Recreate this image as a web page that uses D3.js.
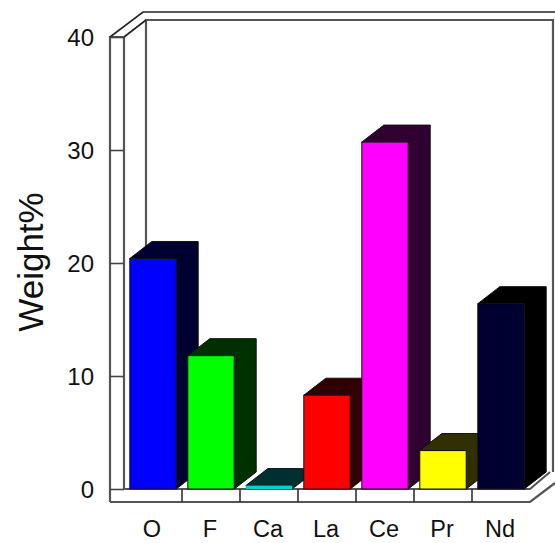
<!DOCTYPE html>
<html>
<head>
<meta charset="utf-8">
<script src="https://cdn.jsdelivr.net/npm/d3@7"></script>
<style>
  html, body { margin: 0; padding: 0; background: #fff; }
  svg { display: block; }
  text { font-family: "Liberation Sans", Arial, sans-serif; fill: #111; }
</style>
</head>
<body>
<svg id="chart" width="555" height="543"></svg>
<script>
// Element composition of the sample
const elements = ["O", "F", "Ca", "La", "Ce", "Pr", "Nd"];
const weights = [20.4, 11.8, 0.3, 8.3, 30.7, 3.4, 16.4];
const frontColors = ["#0000ff", "#00ff00", "#00d0d0", "#ff0000", "#ff00ff", "#ffff00", "#000030"];
const shadeColors = ["#000030", "#002f00", "#002f2f", "#300000", "#300030", "#303000", "#000000"];
const yTicks = [0, 10, 20, 30, 40];

const svg = d3.select("#chart");
const frameColor = "#555";

const y = d3.scaleLinear().domain([0, 40]).range([489, 37]);
const x = d3.scaleBand().domain(elements).range([124, 530]).paddingInner(0.2).paddingOuter(0.1);

// Oblique projection offset for the 3D depth
const depthX = 22, depthY = -17;
const wallLeft = x.range()[0], wallRight = x.range()[1];
const yBase = y(0), yTop = y(40);
const stripX = 14, stripY = 13;

const pathOf = d3.line();
function frame(points, width = 2.2, color = frameColor) {
  svg.append("path").attr("d", pathOf(points))
    .attr("fill", "none").attr("stroke", color)
    .attr("stroke-width", width).attr("stroke-linejoin", "miter");
}

// Box walls: outer strip, inner edges and back plane
frame([[wallLeft - stripX, yBase + stripY], [wallLeft - stripX, yTop], [wallLeft, yTop], [wallLeft, yBase]]);
frame([[wallLeft + depthX, yBase + depthY], [wallLeft + depthX, yTop + depthY], [wallRight + depthX + 1, yTop + depthY], [wallRight + depthX + 1, yBase + depthY]]);
frame([[wallLeft - stripX, yTop], [wallLeft + depthX - 3, yTop - 25], [555, yTop - 25]], 1.6, "#222");
frame([[wallLeft, yTop], [wallLeft + depthX, yTop + depthY]], 1.6, "#222");

// Floor ledge
frame([[wallLeft - stripX, yBase + stripY], [wallRight, yBase + stripY], [555, yBase + stripY - 19]]);
frame([[wallLeft, yBase], [wallRight, yBase], [wallRight + depthX - 2, yBase + depthY]]);

// Separators on the floor ledge between categories
svg.append("g").selectAll("line").data(elements.slice(1)).join("line")
  .attr("x1", d => x(d) - x.step() * x.paddingInner() / 2)
  .attr("x2", d => x(d) - x.step() * x.paddingInner() / 2)
  .attr("y1", yBase).attr("y2", yBase + stripY)
  .attr("stroke", "#333").attr("stroke-width", 1.6);

// Bars: side, top, then front face
const rows = elements.map((name, i) => ({ name, value: weights[i], front: frontColors[i], shade: shadeColors[i] }));
const bars = svg.append("g").selectAll("g").data(rows).join("g");

bars.append("path")
  .attr("fill", d => d.shade)
  .attr("stroke", "#111").attr("stroke-width", 1)
  .attr("d", d => {
    const l = x(d.name), r = l + x.bandwidth(), t = y(d.value);
    return pathOf([[l, t], [l + depthX, t + depthY], [r + depthX, t + depthY], [r + depthX, yBase + depthY], [r, yBase], [r, t]]) + "Z";
  });

bars.append("rect")
  .attr("x", d => x(d.name))
  .attr("y", d => y(d.value))
  .attr("width", x.bandwidth())
  .attr("height", d => yBase - y(d.value))
  .attr("fill", d => d.front)
  .attr("stroke", d => d.value < 1 ? "none" : "#111").attr("stroke-width", 1);

// Value axis, with ticks across the left strip
const yAxis = d3.axisLeft(y).tickValues(yTicks).tickSize(stripX).tickPadding(16);
const gy = svg.append("g").attr("transform", `translate(${wallLeft},0)`).call(yAxis);
gy.select(".domain").remove();
gy.selectAll("line").attr("stroke", "#444").attr("stroke-width", 1.6);
gy.selectAll("text").style("font-size", "24px").attr("dy", "0.36em");

// Category axis
const xAxis = d3.axisBottom(x).tickSize(0).tickPadding(0);
const gx = svg.append("g").attr("transform", "translate(-1,520)").call(xAxis);
gx.select(".domain").remove();
gx.selectAll("text").style("font-size", "23.5px").attr("y", 0).attr("dy", "0.74em");

// Axis title
svg.append("text")
  .attr("transform", "translate(43,262) rotate(-90)")
  .attr("text-anchor", "middle")
  .style("font-size", "35px")
  .text("Weight%");
</script>
</body>
</html>
